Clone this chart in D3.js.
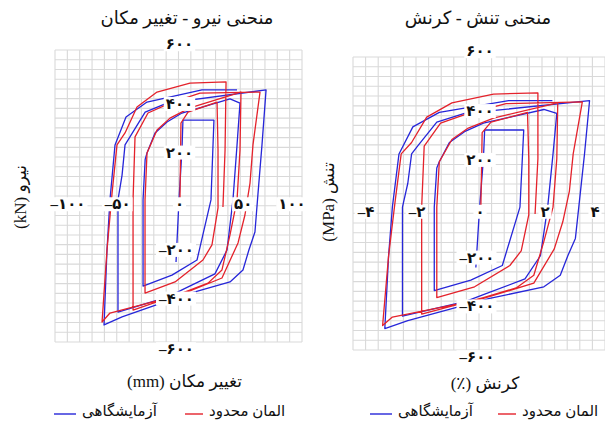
<!DOCTYPE html>
<html>
<head>
<meta charset="utf-8">
<script src="https://cdn.jsdelivr.net/npm/d3@7"></script>
<style>
  body { margin: 0; background: #fff; }
  svg { display: block; }
</style>
</head>
<body>
<svg id="chart" width="605" height="425"></svg>
<script>
// ---- Force–displacement hysteresis (mm, kN) ----
const forceDispLab = [
  [-2, -271], [0.4, -16], [2.8, 189], [3.6, 312], [28.7, 312], [26.3, -16], [15, -263],
  [-5.3, -325], [-28.7, -370], [-28.7, -16], [-27, 150], [-25.5, 177], [-19, 259],
  [-9.3, 304], [2.8, 341], [41.7, 399], [49.8, 382], [47.4, 210], [44.1, -16],
  [39.3, -222], [29.5, -320], [2.8, -386], [-8.5, -415], [-49, -477], [-49, -16],
  [-45.7, 86], [-43.3, 210], [-39.3, 243], [-27, 345], [-9.3, 382], [70.9, 436],
  [67.6, 210], [64.4, 12], [61.9, -148], [57, -222], [52.2, -304], [41.7, -353],
  [6.9, -403], [-45.7, -497], [-60.3, -530], [-57.9, -222], [-55.5, -16], [-51.4, 210],
  [-42.5, 325], [-25.5, 386], [19, 436], [47.4, 436]
];
const forceDispFem = [
  [1.2, -8], [2, 300], [7.7, 345], [31.2, 386], [32, 189], [32, -49], [27.1, -201],
  [19.8, -263], [-2.8, -353], [-27.1, -399], [-27.1, -16], [-25.5, 177], [-17.4, 271],
  [-6.9, 320], [9.3, 362], [50.6, 427], [49.8, 189], [47.4, -16], [41.7, -160],
  [35.2, -304], [23.9, -358], [2.8, -399], [-36.8, -469], [-36.8, -16], [-35.2, 243],
  [-24.7, 341], [-6.9, 382], [17.4, 423], [66, 427], [60.3, 210], [57.9, 53],
  [53.8, -78], [48.2, -193], [35.2, -337], [2.8, -403], [-8.5, -419], [-55.5, -481],
  [-61.9, -518], [-57.9, -222], [-53.8, 12], [-49.8, 210], [-43.3, 259], [-33.6, 366],
  [-17.4, 427], [9.3, 464], [38.5, 469], [37.7, 189], [36, -45]
];

// ---- Stress–strain hysteresis (%, MPa) ----
const stressStrainLab = [
  [-0.10, -262], [0.02, -15], [0.14, 183], [0.18, 301], [1.42, 301], [1.30, -15], [0.74, -254],
  [-0.26, -314], [-1.42, -357], [-1.42, -15], [-1.34, 145], [-1.26, 171], [-0.94, 250],
  [-0.46, 294], [0.14, 329], [2.06, 385], [2.47, 369], [2.35, 203], [2.18, -15],
  [1.95, -214], [1.46, -309], [0.14, -373], [-0.42, -401], [-2.43, -461], [-2.43, -15],
  [-2.26, 83], [-2.14, 203], [-1.95, 235], [-1.34, 333], [-0.46, 369], [3.51, 421],
  [3.35, 203], [3.19, 12], [3.06, -143], [2.82, -214], [2.58, -294], [2.06, -341],
  [0.34, -389], [-2.26, -480], [-2.99, -512], [-2.87, -214], [-2.75, -15], [-2.54, 203],
  [-2.10, 314], [-1.26, 373], [0.94, 421], [2.33, 421]
];
const stressStrainFem = [
  [0.06, -8], [0.10, 290], [0.38, 333], [1.54, 373], [1.58, 183], [1.58, -47], [1.34, -194],
  [0.98, -254], [-0.14, -341], [-1.34, -385], [-1.34, -15], [-1.26, 171], [-0.86, 262],
  [-0.34, 309], [0.46, 350], [2.50, 412], [2.47, 183], [2.35, -15], [2.06, -155],
  [1.74, -294], [1.18, -346], [0.14, -385], [-1.82, -453], [-1.82, -15], [-1.74, 235],
  [-1.22, 329], [-0.34, 369], [0.86, 409], [3.28, 416], [2.99, 203], [2.87, 51],
  [2.66, -75], [2.39, -186], [1.74, -326], [0.14, -389], [-0.42, -405], [-2.75, -465],
  [-3.06, -500], [-2.87, -214], [-2.66, 12], [-2.47, 203], [-2.14, 250], [-1.66, 354],
  [-0.86, 412], [0.46, 448], [1.87, 453], [1.87, 183], [1.78, -43]
];

// ---- Axis ticks and texts ----
const dispTicks = [-100, -50, 0, 50, 100];
const forceTicks = [600, 400, 200, -200, -400, -600];
const strainTicks = [-4, -2, 0, 2, 4];
const stressTicks = [600, 400, 200, -200, -400, -600];
const seriesNames = ['آزمایشگاهی', 'المان محدود'];
const seriesColors = ['#2626d9', '#e4222b'];

const faDigits = '۰۱۲۳۴۵۶۷۸۹';
const fa = v => (v < 0 ? '–' : '') + String(Math.abs(v)).replace(/\d/g, d => faDigits[d]);

const svg = d3.select('#chart');
const FONT = '"Liberation Serif", "DejaVu Sans", serif';

const panels = [
  {
    title: 'منحنی نیرو - تغییر مکان', xTitle: 'تغییر مکان (mm)', yTitle: 'نیرو (kN)',
    lab: forceDispLab, fem: forceDispFem, xTicks: dispTicks, yTicks: forceTicks,
    xDomain: [-100, 100], yDomain: [-600, 600], xStep: 10, yStep: 40,
    x0: 55, x1: 302, yTop: 50, yBot: 342,
    titleX: 187, yTitleX: 20, yTitleY: 197, xTitleY: 381,
    legendX: 54, legendGap: 131
  },
  {
    title: 'منحنی تنش - کرنش', xTitle: 'کرنش (٪)', yTitle: 'تنش (MPa)',
    lab: stressStrainLab, fem: stressStrainFem, xTicks: strainTicks, yTicks: stressTicks,
    xDomain: [-4, 4], yDomain: [-600, 600], xStep: 0.4, yStep: 40,
    x0: 353, x1: 605, yTop: 57, yBot: 350,
    titleX: 478, yTitleX: 328, yTitleY: 202, xTitleY: 383,
    legendX: 370, legendGap: 128
  }
];

panels.forEach(p => {
  const x = d3.scaleLinear().domain(p.xDomain).range([p.x0, p.x1]);
  const y = d3.scaleLinear().domain(p.yDomain).range([p.yBot, p.yTop]);
  const g = svg.append('g');

  // grid
  const nx = Math.round((p.xDomain[1] - p.xDomain[0]) / p.xStep);
  const ny = Math.round((p.yDomain[1] - p.yDomain[0]) / p.yStep);
  const grid = g.append('g').attr('stroke', '#d9d9d9').attr('stroke-width', 1.1);
  grid.selectAll('line.v').data(d3.range(nx + 1)).join('line')
    .attr('x1', i => x(p.xDomain[0] + i * p.xStep)).attr('x2', i => x(p.xDomain[0] + i * p.xStep))
    .attr('y1', p.yTop).attr('y2', p.yBot);
  grid.selectAll('line.h').data(d3.range(ny + 1)).join('line')
    .attr('y1', i => y(p.yDomain[0] + i * p.yStep)).attr('y2', i => y(p.yDomain[0] + i * p.yStep))
    .attr('x1', p.x0).attr('x2', p.x1);

  // hysteresis curves
  const line = d3.line().x(d => x(d[0])).y(d => y(d[1]));
  [p.lab, p.fem].forEach((data, k) => {
    g.append('path').datum(data)
      .attr('d', line).attr('fill', 'none')
      .attr('stroke', seriesColors[k]).attr('stroke-width', 1.3)
      .attr('stroke-linejoin', 'round');
  });

  // tick labels with white backing
  const labels = [];
  p.xTicks.forEach(v => {
    const cx = Math.max(p.x0 + 13, Math.min(p.x1 - 10, x(v) + (v > 0 ? 3 : 1)));
    labels.push({ t: fa(v), cx, cy: y(0) + 8 });
  });
  p.yTicks.forEach(v => {
    let cy = y(v) + 5;
    if (v === p.yDomain[1]) cy = p.yTop - 6;
    if (v === p.yDomain[0]) cy = p.yBot + 7;
    labels.push({ t: fa(v), cx: x(0) + (v < 0 ? -2 : 1), cy });
  });
  labels.forEach(l => {
    const tg = g.append('g');
    const rect = tg.append('rect').attr('fill', '#fff');
    const txt = tg.append('text').text(l.t)
      .attr('x', l.cx).attr('y', l.cy).attr('dy', '0.35em')
      .attr('text-anchor', 'middle').attr('font-family', FONT)
      .attr('font-weight', 'bold').attr('font-size', 15).attr('fill', '#111');
    const b = txt.node().getBBox();
    rect.attr('x', b.x - 2).attr('y', b.y + 1).attr('width', b.width + 4).attr('height', b.height - 2);
  });

  // titles
  g.append('text').text(p.title).attr('x', p.titleX).attr('y', 18).attr('dy', '0.35em')
    .attr('text-anchor', 'middle').attr('direction', 'rtl')
    .attr('font-family', FONT).attr('font-size', 18).attr('fill', '#111');
  g.append('text').text(p.xTitle).attr('x', (p.x0 + p.x1) / 2 + 6).attr('y', p.xTitleY).attr('dy', '0.35em')
    .attr('text-anchor', 'middle').attr('direction', 'rtl')
    .attr('font-family', FONT).attr('font-size', 17).attr('fill', '#111');
  g.append('text').text(p.yTitle)
    .attr('transform', `translate(${p.yTitleX},${p.yTitleY}) rotate(-90)`).attr('dy', '0.35em')
    .attr('text-anchor', 'middle').attr('direction', 'rtl')
    .attr('font-family', FONT).attr('font-size', 17).attr('fill', '#111');

  // legend
  const ly = 411;
  const items = [
    { name: seriesNames[0], color: seriesColors[0], lx: p.legendX, len: 22 },
    { name: seriesNames[1], color: seriesColors[1], lx: p.legendX + p.legendGap, len: 18 }
  ];
  items.forEach(it => {
    g.append('line').attr('x1', it.lx).attr('x2', it.lx + it.len).attr('y1', ly + 3).attr('y2', ly + 3)
      .attr('stroke', it.color).attr('stroke-width', 1.4);
    g.append('text').text(it.name).attr('x', it.lx + it.len + 6).attr('y', ly).attr('dy', '0.35em')
      .attr('text-anchor', 'start').attr('font-family', FONT).attr('font-size', 15).attr('fill', '#111');
  });
});
</script>
</body>
</html>
